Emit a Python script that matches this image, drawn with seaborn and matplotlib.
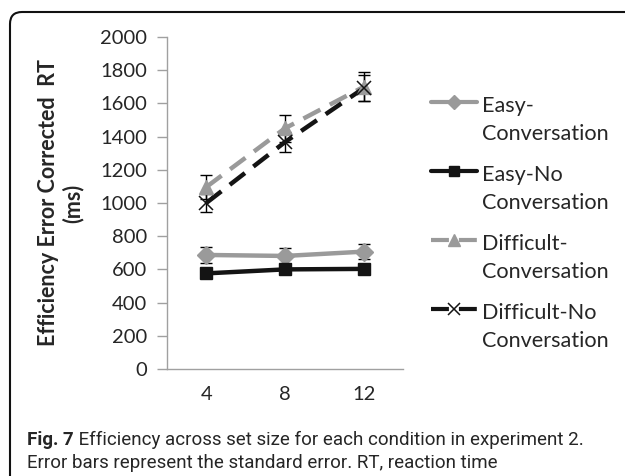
import numpy as np
import pandas as pd
import matplotlib
matplotlib.use("Agg")
import matplotlib.pyplot as plt
import seaborn as sns
from matplotlib.lines import Line2D
from matplotlib.patches import FancyBboxPatch
from matplotlib.legend_handler import HandlerLine2D

# ── data ─────────────────────────────────────────────────────────────────────
set_sizes = ["4", "8", "12"]
conditions = ["Easy-\nConversation", "Easy-No\nConversation",
              "Difficult-\nConversation", "Difficult-No\nConversation"]
easy_conv = [687, 681, 707]
easy_noconv = [576, 600, 603]
diff_conv = [1096, 1450, 1700]
diff_noconv = [1000, 1367, 1692]
se_easy_conv = [46, 46, 46]
se_easy_noconv = [18, 18, 18]
se_diff_conv = [73, 80, 87]
se_diff_noconv = [55, 60, 80]

means = [easy_conv, easy_noconv, diff_conv, diff_noconv]
ses = [se_easy_conv, se_easy_noconv, se_diff_conv, se_diff_noconv]

df = pd.DataFrame({
    "set_size": np.tile(set_sizes, len(conditions)),
    "condition": np.repeat(conditions, len(set_sizes)),
    "rt": np.concatenate(means),
})

# ── style ───────────────────────────────────────────────────────────────────
sns.set_style("white")
plt.rcParams["font.family"] = ["Lato", "DejaVu Sans"]

gray = "#9a9a9a"
black = "#141414"
colors = [gray, black, gray, black]
markers = ["D", "s", "^", "x"]
msizes = [9, 9, 10, 10]
mew = [1, 1, 1, 1.1]
dashes = ["-", "-", (0, (4.3, 2.4)), (0, (4.3, 2.4))]

fig = plt.figure(figsize=(6.25, 4.76), dpi=100)
ax = fig.add_axes([0.267, 0.2248, 0.378, 0.6975])

for i, cond in enumerate(conditions):
    sub = df[df["condition"] == cond]
    sns.pointplot(data=sub, x="set_size", y="rt", order=set_sizes, ax=ax,
                  color=colors[i], marker=markers[i], linestyle="none",
                  markersize=msizes[i], markeredgewidth=mew[i],
                  errorbar=None, zorder=3 + i)
    ax.errorbar(np.arange(len(set_sizes)), means[i], yerr=ses[i], fmt="none",
                ecolor="black", elinewidth=1, capsize=4, capthick=1, zorder=2)
    ax.plot(np.arange(len(set_sizes)), means[i], color=colors[i],
            linestyle=dashes[i], linewidth=3.2, zorder=1 + i)

ax.set_xlim(-0.5, 2.5)
ax.set_ylim(0, 2000)
ax.set_yticks(range(0, 2001, 200))
ax.set_xticks(range(len(set_sizes)))
ax.set_xticklabels(set_sizes)
ax.set_xticks([-0.5, 0.5, 1.5, 2.5], minor=True)
ax.tick_params(axis="x", which="major", length=0, pad=12, labelsize=14.5)
ax.tick_params(axis="x", which="minor", length=7, width=1, color="#a0a0a0",
               direction="out")
ax.tick_params(axis="y", length=7, width=1, color="#a0a0a0", direction="out",
               pad=7, labelsize=14.5, left=True)
for s in ["top", "right"]:
    ax.spines[s].set_visible(False)
for s in ["left", "bottom"]:
    ax.spines[s].set_color("#a0a0a0")
    ax.spines[s].set_linewidth(1)
ax.set_xlabel("")
ax.set_ylabel("Efficiency Error Corrected  RT\n(ms)", fontsize=15.5,
              fontweight="bold", labelpad=12, linespacing=1.15)


# legend: handle sits level with the first line of a two-line label
class FirstLineHandler(HandlerLine2D):
    def create_artists(self, legend, orig_handle, xdescent, ydescent,
                       width, height, fontsize, trans):
        arts = super().create_artists(legend, orig_handle, xdescent, ydescent,
                                      width, height, fontsize, trans)
        for a in arts:
            a.set_ydata(np.asarray(a.get_ydata()) + 0.85 * fontsize)
        return arts


handles = [Line2D([0], [0], color=colors[i], linestyle=dashes[i], linewidth=3,
                  marker=markers[i], markersize=msizes[i] - 2,
                  markeredgewidth=mew[i],
                  markeredgecolor=colors[i], markerfacecolor=colors[i])
           for i in range(len(conditions))]
leg = fig.legend(handles, conditions, loc="upper left",
                 bbox_to_anchor=(0.659, 0.84), frameon=False, fontsize=15.6,
                 handlelength=2.1, handletextpad=0.22, labelspacing=0.98,
                 handler_map={Line2D: FirstLineHandler()})
for t in leg.get_texts():
    t.set_linespacing(1.5)

# frame round the figure
box = FancyBboxPatch((10, -40), 700, 504, transform=None,
                     boxstyle="round,pad=0,rounding_size=12",
                     fill=False, edgecolor="#111111", linewidth=1.5)
fig.patches.append(box)

# caption
cap_font = ["Roboto", "DejaVu Sans"]
t1 = fig.text(27 / 625, 1 - 445 / 476, "Fig. 7", fontsize=13.5,
              fontweight="bold", family=cap_font, va="baseline")
ax.annotate(" Efficiency across set size for each condition in experiment 2.",
            xy=(1, 0), xycoords=t1, va="bottom", fontsize=13.5,
            family=cap_font)
fig.text(27 / 625, 1 - 468 / 476,
         "Error bars represent the standard error. RT, reaction time",
         fontsize=13.5, family=cap_font, va="baseline")

fig.savefig("out.png", dpi=100)
